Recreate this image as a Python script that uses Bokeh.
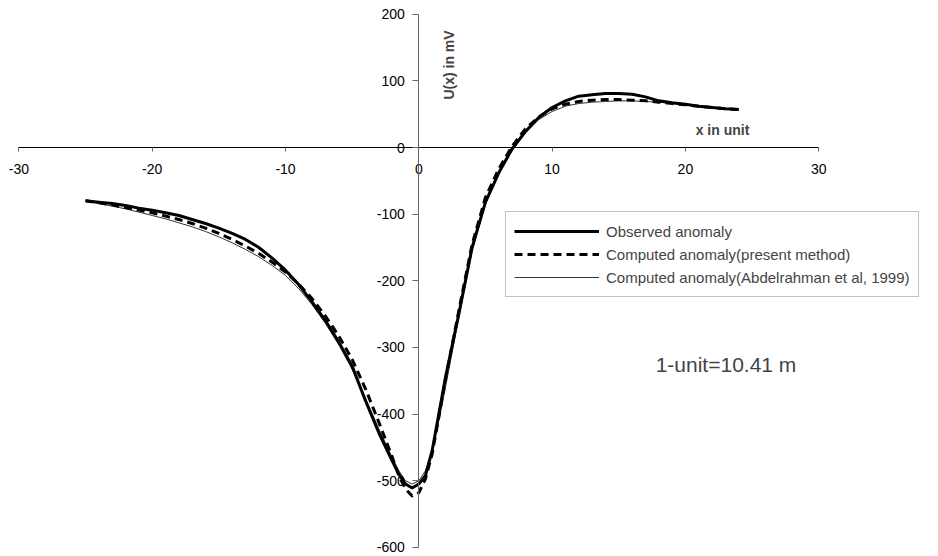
from bokeh.plotting import figure
from bokeh.models import LinearAxis, FixedTicker, Label, Legend, LegendItem, Range1d, PrintfTickFormatter
from bokeh.embed import file_html
from bokeh.resources import INLINE
import math

x_vals = [-25, -24, -23, -22, -21, -20, -19, -18, -17, -16, -15, -14, -13, -12, -11, -10,
          -9, -8, -7, -6, -5, -4, -3, -2, -1.5, -1, -0.5, 0, 0.5, 1, 1.5, 2, 3, 4, 5, 6, 7,
          8, 9, 10, 11, 12, 13, 14, 15, 16, 17, 18, 19, 20, 21, 22, 23, 24]

observed = [-80, -82, -84, -87, -91, -94, -98, -102, -108, -114, -121, -129, -138, -150, -166, -184,
            -206, -232, -260, -292, -328, -380, -428, -470, -490, -505, -511, -505, -492, -455, -400, -345, -250, -150, -82, -38, -2,
            24, 45, 60, 70, 77, 79, 81, 81, 80, 76, 70, 67, 65, 62, 60, 58, 57]

computed_present = [-80, -83, -86, -90, -94, -98, -103, -108, -114, -121, -129, -138, -148, -159, -172, -187,
                    -205, -227, -253, -283, -318, -362, -412, -464, -492, -512, -523, -518, -497, -460, -405, -348, -245, -145, -75, -32, 2,
                    28, 46, 58, 65, 69, 71, 72, 72, 71, 70, 68, 66, 64, 62, 60, 58, 57]

computed_abdel = [-80, -84, -88, -92, -97, -102, -107, -113, -119, -126, -134, -143, -153, -164, -177, -192,
                  -212, -236, -264, -296, -333, -376, -422, -465, -485, -500, -505, -500, -485, -455, -410, -360, -255, -155, -85, -38, -5,
                  22, 42, 54, 62, 66, 68, 69, 70, 70, 69, 68, 66, 64, 62, 60, 58, 56]

x_ticks = [-30, -20, -10, 0, 10, 20, 30]
y_ticks = [-600, -500, -400, -300, -200, -100, 0, 100, 200]

FONT = "Liberation Sans"

W, H = 938, 556
X0, SX = 418.3, 13.33
Y0, SY = 147.0, 0.6665

p = figure(width=W, height=H, output_backend="svg", toolbar_location=None,
           x_range=Range1d(-X0 / SX, (W - X0) / SX),
           y_range=Range1d(-(H - Y0) / SY, Y0 / SY),
           x_axis_type=None, y_axis_type=None,
           min_border_left=0, min_border_right=0, min_border_top=0, min_border_bottom=0)
p.outline_line_color = None
p.xgrid.visible = False
p.ygrid.visible = False

xa = LinearAxis(fixed_location=0, ticker=FixedTicker(ticks=x_ticks), bounds=(-30, 30))
ya = LinearAxis(fixed_location=0, ticker=FixedTicker(ticks=y_ticks), bounds=(-600, 200))
for ax in (xa, ya):
    ax.major_tick_in = 0
    ax.minor_tick_line_color = None
    ax.formatter = PrintfTickFormatter(format="%d")
    ax.major_label_text_font = FONT
    ax.major_label_text_font_size = "14px"
    ax.major_label_text_color = "black"
    ax.major_tick_line_color = "#666666"
xa.axis_line_color = "black"
ya.axis_line_color = "#666666"
xa.major_tick_out = 4
ya.major_tick_out = 6
xa.major_label_standoff = 12
ya.major_label_standoff = 8
p.add_layout(xa, "below")
p.add_layout(ya, "left")

r_abd = p.line(x_vals, computed_abdel, line_color="#333333", line_width=1)
r_obs = p.line(x_vals, observed, line_color="black", line_width=3)
r_pre = p.line(x_vals, computed_present, line_color="black", line_width=3, line_dash="8 5")

legend = Legend(items=[LegendItem(label="Observed anomaly", renderers=[r_obs]),
                       LegendItem(label="Computed anomaly(present method)", renderers=[r_pre]),
                       LegendItem(label="Computed anomaly(Abdelrahman et al, 1999)", renderers=[r_abd])],
                location=(505, H - 297), orientation="vertical",
                glyph_width=85, glyph_height=22, label_height=22, label_width=300,
                spacing=1, padding=8, label_standoff=7, margin=0,
                label_text_font=FONT, label_text_font_size="15px",
                border_line_color="#888888", border_line_width=1,
                background_fill_color="white")
p.add_layout(legend, "center")

p.add_layout(Label(x=(448 - X0) / SX, y=(Y0 - 64.5) / SY, text="U(x) in mV", angle=math.pi / 2,
                   text_align="center", text_baseline="middle",
                   text_font=FONT, text_font_size="14px", text_font_style="bold"))
p.add_layout(Label(x=(722 - X0) / SX, y=(Y0 - 129) / SY, text="x in unit",
                   text_align="center", text_baseline="middle",
                   text_font=FONT, text_font_size="14px", text_font_style="bold"))
p.add_layout(Label(x=(725.5 - X0) / SX, y=(Y0 - 364) / SY, text="1-unit=10.41 m",
                   text_align="center", text_baseline="middle",
                   text_font=FONT, text_font_size="21px"))

open("out.html", "w").write(file_html(p, INLINE))
